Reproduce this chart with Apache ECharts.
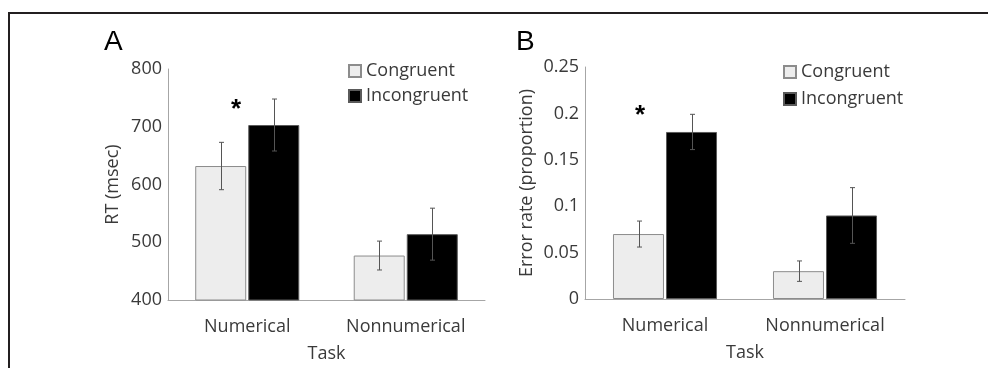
<!DOCTYPE html>
<html>
<head>
<meta charset="utf-8">
<script src="https://cdn.jsdelivr.net/npm/echarts@6/dist/echarts.min.js"></script>
<style>
html,body{margin:0;padding:0;background:#fff;}
#chart{width:988px;height:368px;}
</style>
</head>
<body>
<div id="chart"></div>
<script>
// ---- data ----
var categories = ['Numerical', 'Nonnumerical'];
var seriesNames = ['Congruent', 'Incongruent'];
// Panel A: RT (msec)
var rtCongruent = [632, 477];
var rtIncongruent = [703, 514];
var rtCongruentErr = [41, 25];
var rtIncongruentErr = [45, 45];
// Panel B: Error rate (proportion)
var erCongruent = [0.070, 0.030];
var erIncongruent = [0.180, 0.090];
var erCongruentErr = [0.014, 0.011];
var erIncongruentErr = [0.019, 0.030];
var rtTicks = [400, 500, 600, 700, 800];
var erTicks = [0, 0.05, 0.1, 0.15, 0.2, 0.25];

var TXT = '#3a3a3a';
var FONT = '"Open Sans", "Noto Sans", sans-serif';
var FS = 18;
var AXIS = '#a6a6a6';
var CONG_FILL = '#ededed';
var CONG_BORDER = '#8c8c8c';
var INC_FILL = '#000000';
var INC_BORDER = '#5a5a5a';
var ERR = '#555555';

var chart = echarts.init(document.getElementById('chart'), null, {renderer: 'canvas'});

function errSeries(name, xi, yi, values, errs, barIdx) {
  var data = values.map(function (v, i) { return [i, v - errs[i], v + errs[i]]; });
  return {
    type: 'custom',
    name: name + ' err',
    xAxisIndex: xi, yAxisIndex: yi,
    z: 5,
    silent: true,
    renderItem: function (params, api) {
      var idx = api.value(0);
      var lo = api.coord([idx, api.value(1)]);
      var hi = api.coord([idx, api.value(2)]);
      var bw = 51, gap = 2;
      var x = lo[0] + (barIdx === 0 ? -(gap / 2 + bw / 2) : (gap / 2 + bw / 2));
      x = Math.round(x) + 0.5;
      var c = 2.5;
      var st = {stroke: ERR, lineWidth: 1};
      return {
        type: 'group',
        children: [
          {type: 'line', shape: {x1: x, y1: lo[1], x2: x, y2: hi[1]}, style: st},
          {type: 'line', shape: {x1: x - c, y1: lo[1], x2: x + c, y2: lo[1]}, style: st},
          {type: 'line', shape: {x1: x - c, y1: hi[1], x2: x + c, y2: hi[1]}, style: st}
        ]
      };
    },
    data: data
  };
}

function barSeries(name, xi, yi, values, fill, border) {
  return {
    type: 'bar', name: name, xAxisIndex: xi, yAxisIndex: yi,
    data: values, barWidth: 51, barGap: '4%',
    itemStyle: {color: fill, borderColor: border, borderWidth: 1},
    emphasis: {disabled: true}
  };
}

var axisLabelStyle = {color: TXT, fontSize: FS, fontFamily: FONT};

function legend(left, top, gap) {
  return {
    data: [{name: seriesNames[0], icon: 'rect'}, {name: seriesNames[1], icon: 'rect'}],
    left: left, top: top, orient: 'vertical',
    itemWidth: 12, itemHeight: 12, itemGap: gap,
    textStyle: {color: TXT, fontSize: FS, fontFamily: FONT},
    selectedMode: false
  };
}

var option = {
  animation: false,
  backgroundColor: '#ffffff',
  textStyle: {fontFamily: FONT},
  grid: [
    {left: 168, right: 503, top: 69, bottom: 68},
    {left: 585, right: 83, top: 67, bottom: 69}
  ],
  legend: [legend(343, 57, 7), legend(778, 58, 9)],
  xAxis: [0, 1].map(function (g) {
    return {
      type: 'category', gridIndex: g, data: categories,
      axisLine: {lineStyle: {color: AXIS, width: 1}},
      axisTick: {show: false},
      axisLabel: Object.assign({margin: 18}, axisLabelStyle),
      name: 'Task', nameLocation: 'middle', nameGap: 45,
      nameTextStyle: {color: TXT, fontSize: FS, fontFamily: FONT}
    };
  }),
  yAxis: [
    {
      type: 'value', gridIndex: 0,
      min: rtTicks[0], max: rtTicks[rtTicks.length - 1], interval: rtTicks[1] - rtTicks[0],
      axisLine: {show: true, lineStyle: {color: AXIS, width: 1}},
      axisTick: {show: false}, splitLine: {show: false},
      axisLabel: Object.assign({margin: 6}, axisLabelStyle),
      name: 'RT (msec)', nameLocation: 'middle', nameGap: 46, nameRotate: 90,
      nameTextStyle: {color: TXT, fontSize: FS, fontFamily: FONT}
    },
    {
      type: 'value', gridIndex: 1,
      min: erTicks[0], max: erTicks[erTicks.length - 1], interval: erTicks[1] - erTicks[0],
      axisLabel: Object.assign({margin: 6, formatter: function (v) { return String(+v.toFixed(2)); }}, axisLabelStyle),
      axisLine: {show: true, lineStyle: {color: AXIS, width: 1}},
      axisTick: {show: false}, splitLine: {show: false},
      name: 'Error rate (proportion)', nameLocation: 'middle', nameGap: 49, nameRotate: 90,
      nameTextStyle: {color: TXT, fontSize: FS, fontFamily: FONT}
    }
  ],
  series: [
    barSeries(seriesNames[0], 0, 0, rtCongruent, CONG_FILL, CONG_BORDER),
    barSeries(seriesNames[1], 0, 0, rtIncongruent, INC_FILL, INC_BORDER),
    barSeries(seriesNames[0], 1, 1, erCongruent, CONG_FILL, CONG_BORDER),
    barSeries(seriesNames[1], 1, 1, erIncongruent, INC_FILL, INC_BORDER),
    errSeries(seriesNames[0], 0, 0, rtCongruent, rtCongruentErr, 0),
    errSeries(seriesNames[1], 0, 0, rtIncongruent, rtIncongruentErr, 1),
    errSeries(seriesNames[0], 1, 1, erCongruent, erCongruentErr, 0),
    errSeries(seriesNames[1], 1, 1, erIncongruent, erIncongruentErr, 1)
  ],
  graphic: [
    {type: 'polyline', shape: {points: [[9, 368], [9, 13], [988, 13]]},
     style: {stroke: '#231f20', lineWidth: 2, fill: null}, silent: true},
    {type: 'text', left: 104, top: 28,
     style: {text: 'A', font: '28px "Liberation Sans", Arial, sans-serif', fill: '#000'}},
    {type: 'text', left: 516, top: 28,
     style: {text: 'B', font: '28px "Liberation Sans", Arial, sans-serif', fill: '#000'}},
    {type: 'text', left: 231, top: 97,
     style: {text: '*', font: 'bold 26px "Liberation Sans", Arial, sans-serif', fill: '#000'}},
    {type: 'text', left: 635, top: 103,
     style: {text: '*', font: 'bold 26px "Liberation Sans", Arial, sans-serif', fill: '#000'}}
  ]
};
chart.setOption(option);
</script>
</body>
</html>
